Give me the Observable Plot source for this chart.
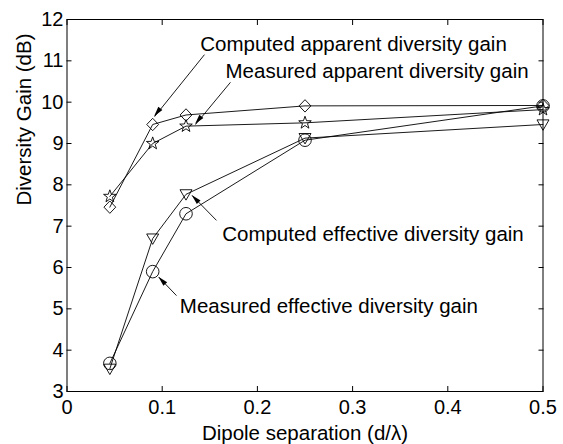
<!DOCTYPE html>
<html><head><meta charset="utf-8">
<script src="https://cdn.jsdelivr.net/npm/d3@7"></script>
<script src="https://cdn.jsdelivr.net/npm/@observablehq/plot@0.6"></script>
<style>
html,body{margin:0;padding:0;background:#fff;}
#chart svg{display:block;}
</style></head><body><div id="chart"></div>
<script>
// ---- data ----
const separation = [0.045, 0.09, 0.125, 0.25, 0.5];
const computedApparent = [7.46, 9.46, 9.69, 9.91, 9.92];
const measuredApparent = [7.72, 9.0, 9.42, 9.5, 9.82];
const computedEffective = [3.55, 6.7, 7.77, 9.13, 9.46];
const measuredEffective = [3.68, 5.9, 7.3, 9.08, 9.91];
const seriesNames = ["Computed apparent", "Measured apparent", "Computed effective", "Measured effective"];
const xTicks = [0, 0.1, 0.2, 0.3, 0.4, 0.5];
const yTicks = [3, 4, 5, 6, 7, 8, 9, 10, 11, 12];
const xLabel = "Dipole separation (d/λ)";
const yLabel = "Diversity Gain (dB)";
// annotations (data coordinates)
const noteText = ["Computed apparent diversity gain", "Measured apparent diversity gain", "Computed effective diversity gain", "Measured effective diversity gain"];
const noteX = [0.140, 0.1665, 0.163, 0.1185];
const noteY = [11.23, 10.59, 6.65, 4.90];
const arrowFromX = [0.1444, 0.1717, 0.157, 0.115];
const arrowFromY = [11.15, 10.48, 7.14, 5.32];
const arrowToX = [0.092, 0.135, 0.1315, 0.0965];
const arrowToY = [9.65, 9.46, 7.74, 5.765];

// ---- marker shapes (MATLAB-like) ----
const diamondSym = {draw(c) { c.moveTo(0, -6.2); c.lineTo(5.9, 0); c.lineTo(0, 6.2); c.lineTo(-5.9, 0); c.closePath(); }};
const starSym = {draw(c) {
  const R = 6.6, r = R * 0.4;
  for (let i = 0; i < 10; i++) {
    const a = -Math.PI / 2 + i * Math.PI / 5, rr = i % 2 ? r : R;
    const px = rr * Math.cos(a), py = rr * Math.sin(a);
    i ? c.lineTo(px, py) : c.moveTo(px, py);
  }
  c.closePath();
}};
const triDownSym = {draw(c) { c.moveTo(-6, -4.6); c.lineTo(6, -4.6); c.lineTo(0, 5.8); c.closePath(); }};
const circleSym = {draw(c) { c.moveTo(6.3, 0); c.arc(0, 0, 6.3, 0, 2 * Math.PI); }};
const symbolsBySeries = [diamondSym, starSym, triDownSym, circleSym];

const seriesValues = [computedApparent, measuredApparent, computedEffective, measuredEffective];
const rows = seriesValues.flatMap((vals, s) => vals.map((v, i) => ({series: seriesNames[s], x: separation[i], y: v})));
const notes = noteText.map((t, i) => ({t, x: noteX[i], y: noteY[i], x1: arrowFromX[i], y1: arrowFromY[i], x2: arrowToX[i], y2: arrowToY[i]}));

const font = "'Liberation Sans', Arial, Helvetica, sans-serif";
const fmt = d => String(d);

const chart = Plot.plot({
  width: 563,
  height: 444,
  marginLeft: 66.5,
  marginRight: 20.5,
  marginTop: 19,
  marginBottom: 53,
  style: {fontFamily: font, fontSize: "20px", color: "black", background: "white"},
  x: {domain: [0, 0.5]},
  y: {domain: [3, 12]},
  marks: [
    Plot.frame({stroke: "black", strokeWidth: 1}),
    // tick labels (outside)
    Plot.axisX({anchor: "bottom", ticks: xTicks, tickSize: 0, tickPadding: 8, tickFormat: fmt, label: null, fontSize: 20}),
    Plot.axisY({anchor: "left", ticks: yTicks, tickSize: 0, tickPadding: 3.5, tickFormat: fmt, label: null, fontSize: 20}),
    // inward ticks on all four sides
    Plot.axisX({anchor: "bottom", ticks: xTicks, tickSize: 5, dy: -5, tickFormat: () => "", label: null}),
    Plot.axisX({anchor: "top", ticks: xTicks, tickSize: 5, dy: 5, tickFormat: () => "", label: null}),
    Plot.axisY({anchor: "left", ticks: yTicks, tickSize: 5, dx: 5, tickFormat: () => "", label: null}),
    Plot.axisY({anchor: "right", ticks: yTicks, tickSize: 5, dx: -5, tickFormat: () => "", label: null}),
    // series
    Plot.line(rows, {x: "x", y: "y", z: "series", stroke: "black", strokeWidth: 0.9}),
    ...seriesNames.map((name, s) => Plot.dot(rows.filter(d => d.series === name), {x: "x", y: "y", symbol: symbolsBySeries[s], r: 6, stroke: "black", strokeWidth: 0.9, fill: "none"})),
    // annotation arrows shafts
    Plot.link(notes, {x1: "x1", y1: "y1", x2: "x2", y2: "y2", stroke: "black", strokeWidth: 0.9}),
    Plot.text(notes, {x: "x", y: "y", text: "t", textAnchor: "start", lineAnchor: "bottom", fontSize: 20.5, fill: "black"}),
    // axis titles
    Plot.text([xLabel], {frameAnchor: "bottom", text: d => d, dy: 42.3, lineAnchor: "middle", fontSize: 20.5, fill: "black"}),
    Plot.text([yLabel], {frameAnchor: "left", text: d => d, rotate: -90, dx: -43, lineAnchor: "middle", fontSize: 20.5, fill: "black"})
  ]
});

// filled arrowheads placed through the chart's own scales
const sx = chart.scale("x"), sy = chart.scale("y");
const heads = d3.select(chart).append("g").attr("fill", "black");
notes.forEach(n => {
  const x1 = sx.apply(n.x1), y1 = sy.apply(n.y1), x2 = sx.apply(n.x2), y2 = sy.apply(n.y2);
  const a = Math.atan2(y2 - y1, x2 - x1), L = 10, W = 2.6;
  const bx = x2 - L * Math.cos(a), by = y2 - L * Math.sin(a);
  heads.append("path").attr("d", `M${x2},${y2}L${bx - W * Math.sin(a)},${by + W * Math.cos(a)}L${bx + W * Math.sin(a)},${by - W * Math.cos(a)}Z`);
});

document.getElementById("chart").appendChild(chart);
</script>
</body></html>
